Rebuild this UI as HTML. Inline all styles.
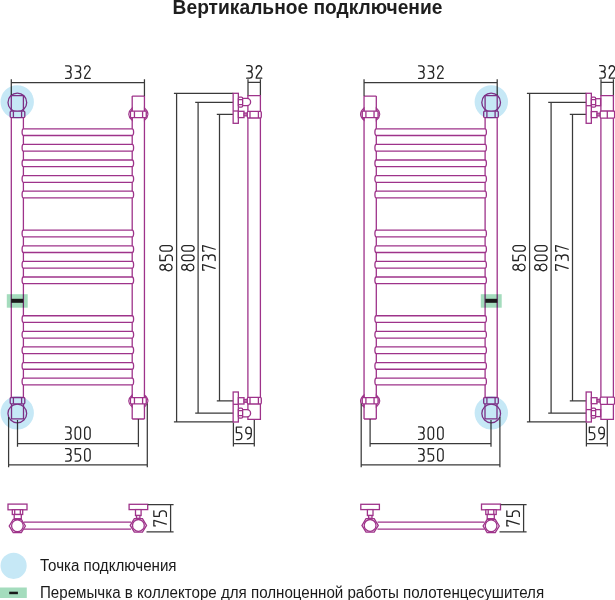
<!DOCTYPE html>
<html><head><meta charset="utf-8"><title>Вертикальное подключение</title>
<style>
html,body{margin:0;padding:0;background:#fff;width:615px;height:600px;overflow:hidden}
body{position:relative;font-family:"Liberation Sans",sans-serif;color:#222}
svg{position:absolute;left:0;top:0;isolation:isolate}
.title{position:absolute;left:0;width:615px;text-align:center;top:-4px;font-size:19.5px;font-weight:bold;line-height:22px;white-space:nowrap;color:#1e1e1e;transform:scaleX(0.985)}
.lg{position:absolute;left:40.3px;font-size:16px;line-height:17px;white-space:nowrap;color:#1a1a1a;transform:scaleX(0.945);transform-origin:0 0}
</style></head><body>
<svg width="615" height="600" viewBox="0 0 615 600"><style>
.p{fill:none;stroke:#9e338a;stroke-width:1.3}
.pf{fill:#fff;stroke:#9e338a;stroke-width:1.3}
.pk{fill:#c27cb3;stroke:#9e338a;stroke-width:1.1}
.d{fill:none;stroke:#3a3a3a;stroke-width:1.25}
.t path{fill:none;stroke:#262626;stroke-width:1.3;vector-effect:non-scaling-stroke;stroke-linecap:round;stroke-linejoin:round}
.bl{fill:#c6e8f6;mix-blend-mode:multiply}
.gr{fill:#a4dcbd;mix-blend-mode:multiply}
</style><g transform="translate(0,0)"><path class="p" d="M11.3,117.9V397.5M23.4,117.9V397.5"/><path class="p" d="M132.2,96.1V419M144.45,96.1V419M132.2,96.1H144.45M132.2,419H144.45"/><path class="pf" d="M23.4,128.80H132.2A1.4,3.35 0 0 1 132.2,135.50H23.4A1.3,3.35 0 0 1 23.4,128.80Z"/><path class="pf" d="M23.4,144.40H132.2A1.4,3.35 0 0 1 132.2,151.10H23.4A1.3,3.35 0 0 1 23.4,144.40Z"/><path class="pf" d="M23.4,160.00H132.2A1.4,3.35 0 0 1 132.2,166.70H23.4A1.3,3.35 0 0 1 23.4,160.00Z"/><path class="pf" d="M23.4,175.60H132.2A1.4,3.35 0 0 1 132.2,182.30H23.4A1.3,3.35 0 0 1 23.4,175.60Z"/><path class="pf" d="M23.4,191.20H132.2A1.4,3.35 0 0 1 132.2,197.90H23.4A1.3,3.35 0 0 1 23.4,191.20Z"/><path class="pf" d="M23.4,230.20H132.2A1.4,3.35 0 0 1 132.2,236.90H23.4A1.3,3.35 0 0 1 23.4,230.20Z"/><path class="pf" d="M23.4,245.80H132.2A1.4,3.35 0 0 1 132.2,252.50H23.4A1.3,3.35 0 0 1 23.4,245.80Z"/><path class="pf" d="M23.4,261.40H132.2A1.4,3.35 0 0 1 132.2,268.10H23.4A1.3,3.35 0 0 1 23.4,261.40Z"/><path class="pf" d="M23.4,277.00H132.2A1.4,3.35 0 0 1 132.2,283.70H23.4A1.3,3.35 0 0 1 23.4,277.00Z"/><path class="pf" d="M23.4,315.75H132.2A1.4,3.35 0 0 1 132.2,322.45H23.4A1.3,3.35 0 0 1 23.4,315.75Z"/><path class="pf" d="M23.4,331.35H132.2A1.4,3.35 0 0 1 132.2,338.05H23.4A1.3,3.35 0 0 1 23.4,331.35Z"/><path class="pf" d="M23.4,346.95H132.2A1.4,3.35 0 0 1 132.2,353.65H23.4A1.3,3.35 0 0 1 23.4,346.95Z"/><path class="pf" d="M23.4,362.55H132.2A1.4,3.35 0 0 1 132.2,369.25H23.4A1.3,3.35 0 0 1 23.4,362.55Z"/><path class="pf" d="M23.4,378.15H132.2A1.4,3.35 0 0 1 132.2,384.85H23.4A1.3,3.35 0 0 1 23.4,378.15Z"/><circle class="p" cx="17.35" cy="102.4" r="9.35"/><path class="p" d="M11.3,111.2V95.7H23.4V111.2"/><rect class="pf" x="10.2" y="111.2" width="14.6" height="6.4" rx="1"/><path class="p" d="M13.4,111.2V117.6M21.6,111.2V117.6"/><circle class="p" cx="17.3" cy="413.45" r="9.35"/><path class="p" d="M11.5,403.8V418.8H23.5V403.8"/><rect class="pf" x="10.2" y="397.5" width="14.6" height="6.3" rx="1"/><path class="p" d="M13.4,397.5V403.8M21.6,397.5V403.8"/><path class="pf" style="stroke-width:1.1" d="M132.2,107.9Q125.2,114.15 132.2,120.4ZM144.45,107.9Q151.5,114.15 144.45,120.4Z"/><path class="p" style="stroke-width:1.0" d="M132.2,109.10Q128.6,114.15 132.2,119.20M144.45,109.10Q148.1,114.15 144.45,119.20"/><rect class="pf" x="130.45" y="111.2" width="15.8" height="6.50" rx="0.8"/><path class="p" d="M134.45,111.2V117.7M142.6,111.2V117.7"/><path class="pf" style="stroke-width:1.1" d="M132.2,394.8Q125.2,400.90 132.2,407.0ZM144.45,394.8Q151.5,400.90 144.45,407.0Z"/><path class="p" style="stroke-width:1.0" d="M132.2,396.00Q128.6,400.90 132.2,405.80M144.45,396.00Q148.1,400.90 144.45,405.80"/><rect class="pf" x="130.45" y="397.65" width="15.8" height="6.25" rx="0.8"/><path class="p" d="M134.45,397.65V403.9M142.6,397.65V403.9"/><path class="d" d="M11.3,79.3V95M11.3,82.5H144.45M144.45,79.3V96.1"/><path class="d" d="M17.5,420.1V446.7M17.5,443.5H138.4M138.4,419V446.7"/><path class="d" d="M8.6,417V467.3M8.6,464.9H147.3M147.3,403.5V467.3"/><path class="p" d="M24,522.2H131M24,529.1H131"/><rect class="pf" x="8" y="504.1" width="19" height="5.7"/><rect class="pf" x="12.3" y="509.7" width="10.4" height="4.8"/><path class="p" d="M14.7,509.8V514.5M20.3,509.8V514.5"/><rect class="pf" x="14.2" y="514.5" width="7.1" height="4.2"/><path class="pf" d="M9.20,526.00L13.25,519.40L21.35,519.40L25.40,526.00L21.35,532.60L13.25,532.60Z"/><circle class="p" cx="17.4" cy="525.8" r="5.85"/><rect class="pf" x="129.1" y="504.3" width="18.6" height="5.3"/><rect class="pf" x="135.5" y="509.6" width="5.6" height="5.9"/><rect class="pf" x="136.5" y="515.5" width="3.4" height="2.8"/><path class="pf" d="M130.25,525.40L134.33,518.70L142.47,518.70L146.55,525.40L142.47,532.10L134.33,532.10Z"/><circle class="p" cx="138.4" cy="525.4" r="5.9"/><circle class="bl" cx="17.2" cy="101.9" r="16.7"/><circle class="bl" cx="17.2" cy="412.9" r="16.7"/><rect class="gr" x="6.8" y="294.2" width="20.9" height="13.5"/><rect fill="#1a1a1a" x="11.2" y="298.8" width="12" height="4"/><path class="d" d="M173.9,93.3H233.2M176.6,93.3V421.8M173.9,421.8H233.2"/><path class="d" d="M195.2,102.3H233.2M198.1,102.3V413.1M195.2,413.1H233.2"/><path class="d" d="M216.8,114.3H233.2M219.5,114.3V400.9M216.8,400.9H233.2"/><path class="d" d="M248,79.3V95.7M260.4,79.3V95.7M248,82.3H260.4"/><path class="d" d="M233.4,422.4V446.5M254.3,419.5V446.5M233.4,443.6H254.3"/><path class="pf" d="M247.9,95.7H260.4V419.3H247.9Z"/><rect class="pf" x="233.15" y="93.30" width="5.2" height="30"/><path class="p" d="M233.15,111.00H238.35"/><rect class="pf" x="238.35" y="97.20" width="4.3" height="9.90" rx="1.3"/><path class="p" d="M238.35,99.60H242.65M238.35,104.70H242.65"/><path class="pf" d="M242.65,98.40H247.0A3.6,3.6 0 0 1 247.0,105.60H242.65Z"/><rect class="pf" x="238.35" y="111.30" width="5.65" height="6.30"/><rect class="pk" x="244.0" y="113.00" width="3.4" height="2.90"/><rect class="pf" x="247.3" y="111.30" width="14.0" height="6.70" rx="1.2"/><path class="p" d="M250.0,111.30V118.00M258.4,111.30V118.00"/><rect class="pf" x="233.15" y="392.00" width="5.2" height="30"/><path class="p" d="M233.15,404.30H238.35"/><rect class="pf" x="238.35" y="408.20" width="4.3" height="9.90" rx="1.3"/><path class="p" d="M238.35,415.70H242.65M238.35,410.60H242.65"/><path class="pf" d="M242.65,409.70H247.0A3.6,3.6 0 0 1 247.0,416.90H242.65Z"/><rect class="pf" x="238.35" y="397.70" width="5.65" height="6.30"/><rect class="pk" x="244.0" y="399.40" width="3.4" height="2.90"/><rect class="pf" x="247.3" y="397.30" width="14.0" height="6.70" rx="1.2"/><path class="p" d="M250.0,397.30V404.00M258.4,397.30V404.00"/><path class="d" d="M147.7,504.5H173.6M146.5,531.8H173.6M170.6,504.5V531.8"/><g transform="translate(64.90,65.20)" class="t"><path transform="translate(0.65,0.65) scale(1.0,1.06)" d="M0,0H2.8A2.7,2.7 0 0 1 5.5,2.7V2.8A2.7,2.7 0 0 1 2.8,5.5H1.6M2.8,5.5A2.75,2.75 0 0 1 5.6,8.25V9.05A2.75,2.75 0 0 1 2.85,11.8H0"/><path transform="translate(10.20,0.65) scale(1.0,1.06)" d="M0,0H2.8A2.7,2.7 0 0 1 5.5,2.7V2.8A2.7,2.7 0 0 1 2.8,5.5H1.6M2.8,5.5A2.75,2.75 0 0 1 5.6,8.25V9.05A2.75,2.75 0 0 1 2.85,11.8H0"/><path transform="translate(19.75,0.65) scale(1.0,1.06)" d="M0,2.9A2.75,2.75 0 0 1 5.5,2.75C5.5,5.2 0,8.6 0,11.8H5.6"/></g><g transform="translate(64.90,426.30)" class="t"><path transform="translate(0.65,0.65) scale(1.0,1.06)" d="M0,0H2.8A2.7,2.7 0 0 1 5.5,2.7V2.8A2.7,2.7 0 0 1 2.8,5.5H1.6M2.8,5.5A2.75,2.75 0 0 1 5.6,8.25V9.05A2.75,2.75 0 0 1 2.85,11.8H0"/><path transform="translate(10.20,0.65) scale(1.0,1.06)" d="M0,2.75V9.05A2.75,2.75 0 0 0 5.5,9.05V2.75A2.75,2.75 0 0 0 0,2.75Z"/><path transform="translate(19.75,0.65) scale(1.0,1.06)" d="M0,2.75V9.05A2.75,2.75 0 0 0 5.5,9.05V2.75A2.75,2.75 0 0 0 0,2.75Z"/></g><g transform="translate(64.90,447.90)" class="t"><path transform="translate(0.65,0.65) scale(1.0,1.06)" d="M0,0H2.8A2.7,2.7 0 0 1 5.5,2.7V2.8A2.7,2.7 0 0 1 2.8,5.5H1.6M2.8,5.5A2.75,2.75 0 0 1 5.6,8.25V9.05A2.75,2.75 0 0 1 2.85,11.8H0"/><path transform="translate(10.20,0.65) scale(1.0,1.06)" d="M5.5,0H0.1V5.2H2.8A2.75,2.75 0 0 1 5.55,7.95V9.05A2.75,2.75 0 0 1 2.8,11.8H0"/><path transform="translate(19.75,0.65) scale(1.0,1.06)" d="M0,2.75V9.05A2.75,2.75 0 0 0 5.5,9.05V2.75A2.75,2.75 0 0 0 0,2.75Z"/></g><g transform="translate(159.20,270.80) rotate(-90)" class="t"><path transform="translate(0.65,0.65) scale(1.0,1.06)" d="M2.75,4.9A2.6,2.45 0 1 1 2.76,4.9ZM2.75,4.9A3.3,3.3 0 1 0 2.76,4.9Z"/><path transform="translate(10.20,0.65) scale(1.0,1.06)" d="M5.5,0H0.1V5.2H2.8A2.75,2.75 0 0 1 5.55,7.95V9.05A2.75,2.75 0 0 1 2.8,11.8H0"/><path transform="translate(19.75,0.65) scale(1.0,1.06)" d="M0,2.75V9.05A2.75,2.75 0 0 0 5.5,9.05V2.75A2.75,2.75 0 0 0 0,2.75Z"/></g><g transform="translate(181.00,270.80) rotate(-90)" class="t"><path transform="translate(0.65,0.65) scale(1.0,1.06)" d="M2.75,4.9A2.6,2.45 0 1 1 2.76,4.9ZM2.75,4.9A3.3,3.3 0 1 0 2.76,4.9Z"/><path transform="translate(10.20,0.65) scale(1.0,1.06)" d="M0,2.75V9.05A2.75,2.75 0 0 0 5.5,9.05V2.75A2.75,2.75 0 0 0 0,2.75Z"/><path transform="translate(19.75,0.65) scale(1.0,1.06)" d="M0,2.75V9.05A2.75,2.75 0 0 0 5.5,9.05V2.75A2.75,2.75 0 0 0 0,2.75Z"/></g><g transform="translate(202.00,270.80) rotate(-90)" class="t"><path transform="translate(0.65,0.65) scale(1.0,1.06)" d="M0,1.4V0H5.5L1.8,11.8"/><path transform="translate(10.20,0.65) scale(1.0,1.06)" d="M0,0H2.8A2.7,2.7 0 0 1 5.5,2.7V2.8A2.7,2.7 0 0 1 2.8,5.5H1.6M2.8,5.5A2.75,2.75 0 0 1 5.6,8.25V9.05A2.75,2.75 0 0 1 2.85,11.8H0"/><path transform="translate(19.75,0.65) scale(1.0,1.06)" d="M0,1.4V0H5.5L1.8,11.8"/></g><g transform="translate(246.00,65.00)" class="t"><path transform="translate(0.65,0.65) scale(1.0,1.06)" d="M0,0H2.8A2.7,2.7 0 0 1 5.5,2.7V2.8A2.7,2.7 0 0 1 2.8,5.5H1.6M2.8,5.5A2.75,2.75 0 0 1 5.6,8.25V9.05A2.75,2.75 0 0 1 2.85,11.8H0"/><path transform="translate(10.20,0.65) scale(1.0,1.06)" d="M0,2.9A2.75,2.75 0 0 1 5.5,2.75C5.5,5.2 0,8.6 0,11.8H5.6"/></g><g transform="translate(235.60,426.40)" class="t"><path transform="translate(0.65,0.65) scale(1.0,1.06)" d="M5.5,0H0.1V5.2H2.8A2.75,2.75 0 0 1 5.55,7.95V9.05A2.75,2.75 0 0 1 2.8,11.8H0"/><path transform="translate(10.20,0.65) scale(1.0,1.06)" d="M5.5,2.75A2.75,2.75 0 0 0 0,2.75V3.9A2.3,2.3 0 0 0 2.3,6.2H5.5M5.5,2.75V6.6C5.5,9.1 4,10.8 1.6,11.3"/></g><g transform="translate(153.20,526.60) rotate(-90)" class="t"><path transform="translate(0.65,0.65) scale(1.0,1.06)" d="M0,1.4V0H5.5L1.8,11.8"/><path transform="translate(10.20,0.65) scale(1.0,1.06)" d="M5.5,0H0.1V5.2H2.8A2.75,2.75 0 0 1 5.55,7.95V9.05A2.75,2.75 0 0 1 2.8,11.8H0"/></g></g><g transform="translate(353,0)"><g transform="translate(155.5,0) scale(-1,1)"><path class="p" d="M11.3,117.9V397.5M23.4,117.9V397.5"/><path class="p" d="M132.2,96.1V419M144.45,96.1V419M132.2,96.1H144.45M132.2,419H144.45"/><path class="pf" d="M23.4,128.80H132.2A1.4,3.35 0 0 1 132.2,135.50H23.4A1.3,3.35 0 0 1 23.4,128.80Z"/><path class="pf" d="M23.4,144.40H132.2A1.4,3.35 0 0 1 132.2,151.10H23.4A1.3,3.35 0 0 1 23.4,144.40Z"/><path class="pf" d="M23.4,160.00H132.2A1.4,3.35 0 0 1 132.2,166.70H23.4A1.3,3.35 0 0 1 23.4,160.00Z"/><path class="pf" d="M23.4,175.60H132.2A1.4,3.35 0 0 1 132.2,182.30H23.4A1.3,3.35 0 0 1 23.4,175.60Z"/><path class="pf" d="M23.4,191.20H132.2A1.4,3.35 0 0 1 132.2,197.90H23.4A1.3,3.35 0 0 1 23.4,191.20Z"/><path class="pf" d="M23.4,230.20H132.2A1.4,3.35 0 0 1 132.2,236.90H23.4A1.3,3.35 0 0 1 23.4,230.20Z"/><path class="pf" d="M23.4,245.80H132.2A1.4,3.35 0 0 1 132.2,252.50H23.4A1.3,3.35 0 0 1 23.4,245.80Z"/><path class="pf" d="M23.4,261.40H132.2A1.4,3.35 0 0 1 132.2,268.10H23.4A1.3,3.35 0 0 1 23.4,261.40Z"/><path class="pf" d="M23.4,277.00H132.2A1.4,3.35 0 0 1 132.2,283.70H23.4A1.3,3.35 0 0 1 23.4,277.00Z"/><path class="pf" d="M23.4,315.75H132.2A1.4,3.35 0 0 1 132.2,322.45H23.4A1.3,3.35 0 0 1 23.4,315.75Z"/><path class="pf" d="M23.4,331.35H132.2A1.4,3.35 0 0 1 132.2,338.05H23.4A1.3,3.35 0 0 1 23.4,331.35Z"/><path class="pf" d="M23.4,346.95H132.2A1.4,3.35 0 0 1 132.2,353.65H23.4A1.3,3.35 0 0 1 23.4,346.95Z"/><path class="pf" d="M23.4,362.55H132.2A1.4,3.35 0 0 1 132.2,369.25H23.4A1.3,3.35 0 0 1 23.4,362.55Z"/><path class="pf" d="M23.4,378.15H132.2A1.4,3.35 0 0 1 132.2,384.85H23.4A1.3,3.35 0 0 1 23.4,378.15Z"/><circle class="p" cx="17.35" cy="102.4" r="9.35"/><path class="p" d="M11.3,111.2V95.7H23.4V111.2"/><rect class="pf" x="10.2" y="111.2" width="14.6" height="6.4" rx="1"/><path class="p" d="M13.4,111.2V117.6M21.6,111.2V117.6"/><circle class="p" cx="17.3" cy="413.45" r="9.35"/><path class="p" d="M11.5,403.8V418.8H23.5V403.8"/><rect class="pf" x="10.2" y="397.5" width="14.6" height="6.3" rx="1"/><path class="p" d="M13.4,397.5V403.8M21.6,397.5V403.8"/><path class="pf" style="stroke-width:1.1" d="M132.2,107.9Q125.2,114.15 132.2,120.4ZM144.45,107.9Q151.5,114.15 144.45,120.4Z"/><path class="p" style="stroke-width:1.0" d="M132.2,109.10Q128.6,114.15 132.2,119.20M144.45,109.10Q148.1,114.15 144.45,119.20"/><rect class="pf" x="130.45" y="111.2" width="15.8" height="6.50" rx="0.8"/><path class="p" d="M134.45,111.2V117.7M142.6,111.2V117.7"/><path class="pf" style="stroke-width:1.1" d="M132.2,394.8Q125.2,400.90 132.2,407.0ZM144.45,394.8Q151.5,400.90 144.45,407.0Z"/><path class="p" style="stroke-width:1.0" d="M132.2,396.00Q128.6,400.90 132.2,405.80M144.45,396.00Q148.1,400.90 144.45,405.80"/><rect class="pf" x="130.45" y="397.65" width="15.8" height="6.25" rx="0.8"/><path class="p" d="M134.45,397.65V403.9M142.6,397.65V403.9"/><path class="d" d="M11.3,79.3V95M11.3,82.5H144.45M144.45,79.3V96.1"/><path class="d" d="M17.5,420.1V446.7M17.5,443.5H138.4M138.4,419V446.7"/><path class="d" d="M8.6,417V467.3M8.6,464.9H147.3M147.3,403.5V467.3"/><path class="p" d="M24,522.2H131M24,529.1H131"/><rect class="pf" x="8" y="504.1" width="19" height="5.7"/><rect class="pf" x="12.3" y="509.7" width="10.4" height="4.8"/><path class="p" d="M14.7,509.8V514.5M20.3,509.8V514.5"/><rect class="pf" x="14.2" y="514.5" width="7.1" height="4.2"/><path class="pf" d="M9.20,526.00L13.25,519.40L21.35,519.40L25.40,526.00L21.35,532.60L13.25,532.60Z"/><circle class="p" cx="17.4" cy="525.8" r="5.85"/><rect class="pf" x="129.1" y="504.3" width="18.6" height="5.3"/><rect class="pf" x="135.5" y="509.6" width="5.6" height="5.9"/><rect class="pf" x="136.5" y="515.5" width="3.4" height="2.8"/><path class="pf" d="M130.25,525.40L134.33,518.70L142.47,518.70L146.55,525.40L142.47,532.10L134.33,532.10Z"/><circle class="p" cx="138.4" cy="525.4" r="5.9"/><circle class="bl" cx="17.2" cy="101.9" r="16.7"/><circle class="bl" cx="17.2" cy="412.9" r="16.7"/><rect class="gr" x="6.8" y="294.2" width="20.9" height="13.5"/><rect fill="#1a1a1a" x="11.2" y="298.8" width="12" height="4"/></g><path class="d" d="M173.9,93.3H233.2M176.6,93.3V421.8M173.9,421.8H233.2"/><path class="d" d="M195.2,102.3H233.2M198.1,102.3V413.1M195.2,413.1H233.2"/><path class="d" d="M216.8,114.3H233.2M219.5,114.3V400.9M216.8,400.9H233.2"/><path class="d" d="M248,79.3V95.7M260.4,79.3V95.7M248,82.3H260.4"/><path class="d" d="M233.4,422.4V446.5M254.3,419.5V446.5M233.4,443.6H254.3"/><path class="pf" d="M247.9,95.7H260.4V419.3H247.9Z"/><rect class="pf" x="233.15" y="93.30" width="5.2" height="30"/><path class="p" d="M233.15,105.70H238.35"/><rect class="pf" x="238.35" y="97.20" width="4.3" height="9.90" rx="1.3"/><path class="p" d="M238.35,99.60H242.65M238.35,104.70H242.65"/><rect class="pf" x="242.65" y="98.70" width="4.95" height="7.00"/><rect class="pf" x="238.35" y="111.60" width="5.65" height="6.00"/><rect class="pk" x="244.0" y="113.20" width="3.2" height="2.80"/><rect class="pf" x="247.2" y="111.00" width="14.4" height="7.20" rx="1.2"/><path class="p" d="M254.3,111.00V118.20"/><rect class="pf" x="233.15" y="392.00" width="5.2" height="30"/><path class="p" d="M233.15,409.60H238.35"/><rect class="pf" x="238.35" y="408.20" width="4.3" height="9.90" rx="1.3"/><path class="p" d="M238.35,415.70H242.65M238.35,410.60H242.65"/><rect class="pf" x="242.65" y="409.60" width="4.95" height="7.00"/><rect class="pf" x="238.35" y="397.70" width="5.65" height="6.00"/><rect class="pk" x="244.0" y="399.30" width="3.2" height="2.80"/><rect class="pf" x="247.2" y="397.10" width="14.4" height="7.20" rx="1.2"/><path class="p" d="M254.3,397.10V404.30"/><path class="d" d="M147.7,504.5H173.6M146.5,531.8H173.6M170.6,504.5V531.8"/><g transform="translate(64.90,65.20)" class="t"><path transform="translate(0.65,0.65) scale(1.0,1.06)" d="M0,0H2.8A2.7,2.7 0 0 1 5.5,2.7V2.8A2.7,2.7 0 0 1 2.8,5.5H1.6M2.8,5.5A2.75,2.75 0 0 1 5.6,8.25V9.05A2.75,2.75 0 0 1 2.85,11.8H0"/><path transform="translate(10.20,0.65) scale(1.0,1.06)" d="M0,0H2.8A2.7,2.7 0 0 1 5.5,2.7V2.8A2.7,2.7 0 0 1 2.8,5.5H1.6M2.8,5.5A2.75,2.75 0 0 1 5.6,8.25V9.05A2.75,2.75 0 0 1 2.85,11.8H0"/><path transform="translate(19.75,0.65) scale(1.0,1.06)" d="M0,2.9A2.75,2.75 0 0 1 5.5,2.75C5.5,5.2 0,8.6 0,11.8H5.6"/></g><g transform="translate(64.90,426.30)" class="t"><path transform="translate(0.65,0.65) scale(1.0,1.06)" d="M0,0H2.8A2.7,2.7 0 0 1 5.5,2.7V2.8A2.7,2.7 0 0 1 2.8,5.5H1.6M2.8,5.5A2.75,2.75 0 0 1 5.6,8.25V9.05A2.75,2.75 0 0 1 2.85,11.8H0"/><path transform="translate(10.20,0.65) scale(1.0,1.06)" d="M0,2.75V9.05A2.75,2.75 0 0 0 5.5,9.05V2.75A2.75,2.75 0 0 0 0,2.75Z"/><path transform="translate(19.75,0.65) scale(1.0,1.06)" d="M0,2.75V9.05A2.75,2.75 0 0 0 5.5,9.05V2.75A2.75,2.75 0 0 0 0,2.75Z"/></g><g transform="translate(64.90,447.90)" class="t"><path transform="translate(0.65,0.65) scale(1.0,1.06)" d="M0,0H2.8A2.7,2.7 0 0 1 5.5,2.7V2.8A2.7,2.7 0 0 1 2.8,5.5H1.6M2.8,5.5A2.75,2.75 0 0 1 5.6,8.25V9.05A2.75,2.75 0 0 1 2.85,11.8H0"/><path transform="translate(10.20,0.65) scale(1.0,1.06)" d="M5.5,0H0.1V5.2H2.8A2.75,2.75 0 0 1 5.55,7.95V9.05A2.75,2.75 0 0 1 2.8,11.8H0"/><path transform="translate(19.75,0.65) scale(1.0,1.06)" d="M0,2.75V9.05A2.75,2.75 0 0 0 5.5,9.05V2.75A2.75,2.75 0 0 0 0,2.75Z"/></g><g transform="translate(159.20,270.80) rotate(-90)" class="t"><path transform="translate(0.65,0.65) scale(1.0,1.06)" d="M2.75,4.9A2.6,2.45 0 1 1 2.76,4.9ZM2.75,4.9A3.3,3.3 0 1 0 2.76,4.9Z"/><path transform="translate(10.20,0.65) scale(1.0,1.06)" d="M5.5,0H0.1V5.2H2.8A2.75,2.75 0 0 1 5.55,7.95V9.05A2.75,2.75 0 0 1 2.8,11.8H0"/><path transform="translate(19.75,0.65) scale(1.0,1.06)" d="M0,2.75V9.05A2.75,2.75 0 0 0 5.5,9.05V2.75A2.75,2.75 0 0 0 0,2.75Z"/></g><g transform="translate(181.00,270.80) rotate(-90)" class="t"><path transform="translate(0.65,0.65) scale(1.0,1.06)" d="M2.75,4.9A2.6,2.45 0 1 1 2.76,4.9ZM2.75,4.9A3.3,3.3 0 1 0 2.76,4.9Z"/><path transform="translate(10.20,0.65) scale(1.0,1.06)" d="M0,2.75V9.05A2.75,2.75 0 0 0 5.5,9.05V2.75A2.75,2.75 0 0 0 0,2.75Z"/><path transform="translate(19.75,0.65) scale(1.0,1.06)" d="M0,2.75V9.05A2.75,2.75 0 0 0 5.5,9.05V2.75A2.75,2.75 0 0 0 0,2.75Z"/></g><g transform="translate(202.00,270.80) rotate(-90)" class="t"><path transform="translate(0.65,0.65) scale(1.0,1.06)" d="M0,1.4V0H5.5L1.8,11.8"/><path transform="translate(10.20,0.65) scale(1.0,1.06)" d="M0,0H2.8A2.7,2.7 0 0 1 5.5,2.7V2.8A2.7,2.7 0 0 1 2.8,5.5H1.6M2.8,5.5A2.75,2.75 0 0 1 5.6,8.25V9.05A2.75,2.75 0 0 1 2.85,11.8H0"/><path transform="translate(19.75,0.65) scale(1.0,1.06)" d="M0,1.4V0H5.5L1.8,11.8"/></g><g transform="translate(246.00,65.00)" class="t"><path transform="translate(0.65,0.65) scale(1.0,1.06)" d="M0,0H2.8A2.7,2.7 0 0 1 5.5,2.7V2.8A2.7,2.7 0 0 1 2.8,5.5H1.6M2.8,5.5A2.75,2.75 0 0 1 5.6,8.25V9.05A2.75,2.75 0 0 1 2.85,11.8H0"/><path transform="translate(10.20,0.65) scale(1.0,1.06)" d="M0,2.9A2.75,2.75 0 0 1 5.5,2.75C5.5,5.2 0,8.6 0,11.8H5.6"/></g><g transform="translate(235.60,426.40)" class="t"><path transform="translate(0.65,0.65) scale(1.0,1.06)" d="M5.5,0H0.1V5.2H2.8A2.75,2.75 0 0 1 5.55,7.95V9.05A2.75,2.75 0 0 1 2.8,11.8H0"/><path transform="translate(10.20,0.65) scale(1.0,1.06)" d="M5.5,2.75A2.75,2.75 0 0 0 0,2.75V3.9A2.3,2.3 0 0 0 2.3,6.2H5.5M5.5,2.75V6.6C5.5,9.1 4,10.8 1.6,11.3"/></g><g transform="translate(153.20,526.60) rotate(-90)" class="t"><path transform="translate(0.65,0.65) scale(1.0,1.06)" d="M0,1.4V0H5.5L1.8,11.8"/><path transform="translate(10.20,0.65) scale(1.0,1.06)" d="M5.5,0H0.1V5.2H2.8A2.75,2.75 0 0 1 5.55,7.95V9.05A2.75,2.75 0 0 1 2.8,11.8H0"/></g></g><circle class="bl" cx="13.6" cy="565.8" r="13.1"/><rect class="gr" x="0" y="587.5" width="26.8" height="10.5"/><rect fill="#1a1a1a" x="9.2" y="591.7" width="8.7" height="2.5"/></svg>
<div class="title">Вертикальное подключение</div>
<div class="lg" style="top:557px">Точка подключения</div>
<div class="lg" style="top:583.5px">Перемычка в коллекторе для полноценной работы полотенцесушителя</div>
</body></html>
